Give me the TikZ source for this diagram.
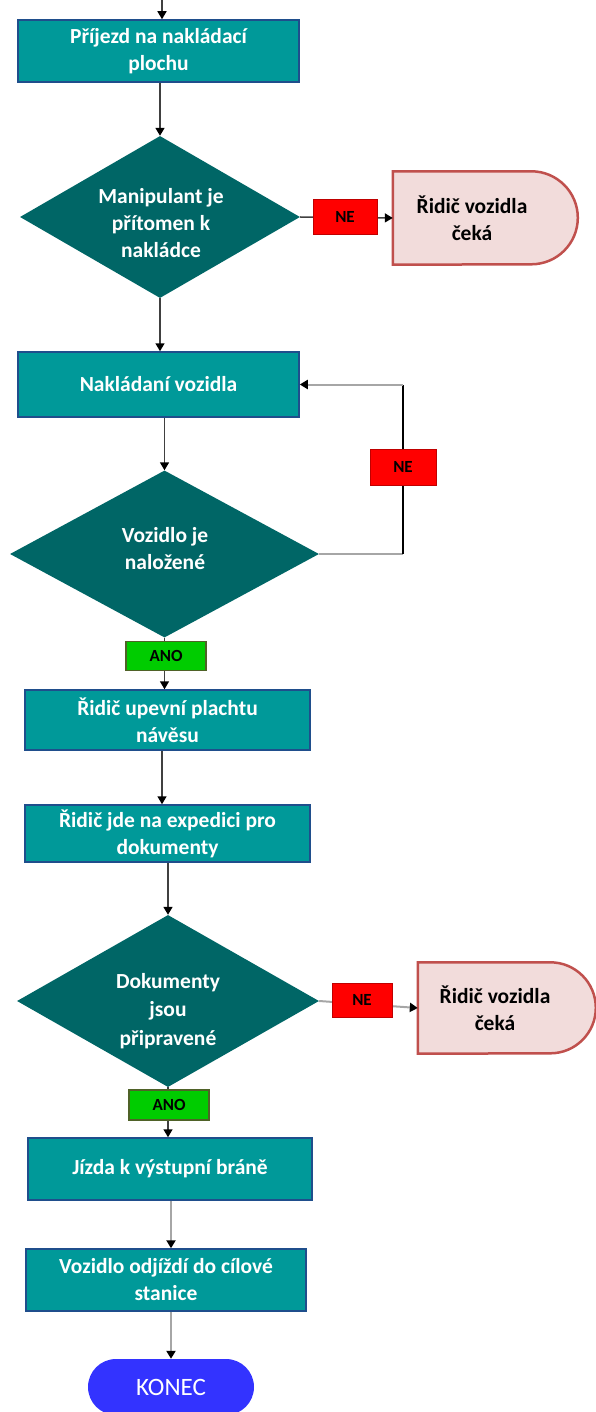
\documentclass[tikz,border=0pt]{standalone}
\usepackage{fontspec}
\setmainfont{Carlito}
\usetikzlibrary{shapes.geometric, arrows.meta}

\definecolor{procfill}{HTML}{009999}
\definecolor{procdraw}{HTML}{1F4E8C}
\definecolor{decfill}{HTML}{006666}
\definecolor{nofill}{HTML}{FF0000}
\definecolor{nodraw}{HTML}{C00000}
\definecolor{yesfill}{HTML}{00CC00}
\definecolor{yesdraw}{HTML}{4F6228}
\definecolor{waitfill}{HTML}{F2DCDB}
\definecolor{waitdraw}{HTML}{C0504D}
\definecolor{endfill}{HTML}{3333FF}
\definecolor{linegray}{HTML}{A6A6A6}
\definecolor{linedark}{HTML}{404040}

\tikzset{
  txt/.style={font=\bfseries\fontsize{21.5}{27}\selectfont, align=center},
  proc/.style={txt, draw=procdraw, line width=1.5pt, fill=procfill, text=white,
    inner sep=0pt},
  dec/.style={diamond, fill=decfill, shape aspect=1.7, inner sep=0pt},
  dectext/.style={txt, text=white, inner sep=0pt},
  waittext/.style={txt, text=black, inner sep=0pt},
  waitshape/.style={draw=waitdraw, line width=2.5pt, fill=waitfill},
  tagno/.style={fill=nofill, draw=nodraw, line width=1pt, text=black,
    font=\bfseries\fontsize{17}{18}\selectfont, minimum width=64pt,
    minimum height=35pt, inner sep=0pt},
  tagyes/.style={fill=yesfill, draw=yesdraw, line width=1.2pt, text=black,
    font=\bfseries\fontsize{17}{18}\selectfont, minimum width=80pt,
    minimum height=29pt, inner sep=0pt},
  endnode/.style={fill=endfill, text=white, rounded corners=28pt,
    font=\fontsize{25}{26}\selectfont, minimum width=166pt,
    minimum height=56pt, inner sep=0pt},
  conn/.style={draw=linedark, line width=1.5pt},
  conngray/.style={draw=linegray, line width=2pt},
  arr/.style={-{Triangle[length=8pt,width=9pt,color=black]}}
}

\begin{document}
\begin{tikzpicture}[x=1pt, y=-1pt]
\useasboundingbox (0,0) rectangle (596,1412);

% process boxes and decisions
\node[proc, minimum width=281pt, minimum height=62pt] (b1) at (158.5,51)
  {Příjezd na nakládací\\plochu};
\node[dec, minimum width=280pt, minimum height=162pt] (d1) at (160,217) {};
\node[dectext] (d1t) at (161,223.5) {Manipulant je\\přítomen k\\nakládce};
\node[proc, minimum width=281pt, minimum height=65pt] (b2) at (158.5,384.5)
  {Nakládaní vozidla};
\node[dec, minimum width=309pt, minimum height=167pt] (d2) at (164.5,554) {};
\node[dectext] (d2t) at (165,549) {Vozidlo je\\naložené};
\node[proc, minimum width=285pt, minimum height=60pt] (b3) at (167.5,720)
  {Řidič upevní plachtu\\návěsu};
\node[proc, minimum width=285pt, minimum height=57pt] (b4) at (167.5,833.5)
  {Řidič jde na expedici pro\\dokumenty};
\node[dec, minimum width=302pt, minimum height=172pt] (d3) at (168,1001) {};
\node[dectext, font=\bfseries\fontsize{21.5}{28.5}\selectfont] (d3t) at (168,1011)
  {Dokumenty\\jsou\\připravené};
\node[proc, minimum width=284pt, minimum height=62pt] (b5) at (170,1169)
  {Jízda k výstupní bráně};
\node[proc, minimum width=280pt, minimum height=62pt] (b6) at (166,1280)
  {Vozidlo odjíždí do cílové\\stanice};
\node[endnode] (end) at (171,1387) {KONEC};

% waiting (delay) shapes
\node[minimum width=185pt, minimum height=93pt, inner sep=0pt] (w1) at (485.5,218) {};
\draw[waitshape] (w1.north west) -- ++(138.5,0)
  arc[start angle=90, end angle=-90, radius=46.5pt] -- (w1.south west) -- cycle;
\node[waittext] (w1t) at (472,218) {Řidič vozidla\\čeká};

\node[minimum width=178pt, minimum height=91pt, inner sep=0pt] (w2) at (507,1008) {};
\draw[waitshape] (w2.north west) -- ++(132.5,0)
  arc[start angle=90, end angle=-90, radius=45.5pt] -- (w2.south west) -- cycle;
\node[waittext] (w2t) at (495,1008) {Řidič vozidla\\čeká};

% connectors
\coordinate (start) at (162,0);
\coordinate (mid) at (162,780);
\draw[conn, arr] (start) -- (start |- b1.north);
\draw[conn, arr] (b1.south -| d1.north) -- (d1.north);
\draw[conn, arr] (d1.east) -- (w1.west);
\draw[conn, arr] (d1.south) -- (d1.south |- b2.north);
\draw[conn, arr] (b2.south -| d2.north) -- (d2.north);
\coordinate (lp1) at (403,554);
\coordinate (lp2) at (403,383);
\draw[conngray] (d2.east) -- (d2.east -| lp1);
\draw[draw=black, line width=1.5pt] (d2.east -| lp1) -- (lp2 |- b2.east);
\draw[conngray, arr] (lp2 |- b2.east) -- (b2.east);
\draw[conn, arr] (d2.south) -- (d2.south |- b3.north);
\draw[conn, arr] (b3.south -| mid) -- (b4.north -| mid);
\draw[conn, arr] (b4.south -| d3.north) -- (d3.north);
\draw[conngray, arr] (d3.east) -- (w2.west);
\draw[conn, arr] (d3.south) -- (d3.south |- b5.north);
\draw[conngray, arr] (b5.south -| end.north) -- (end.north |- b6.north);
\draw[conngray, arr] (b6.south -| end.north) -- (end.north);

% branch labels
\node[tagno] (ne1) at (345,217) {NE};
\node[tagno, minimum width=66pt, minimum height=36pt] (ne2) at (403,467) {NE};
\node[tagno, minimum width=60pt, minimum height=34pt] (ne3) at (362,1000) {NE};
\node[tagyes] (ano1) at (166,656) {ANO};
\node[tagyes, minimum height=30pt] (ano2) at (169,1105) {ANO};
\end{tikzpicture}
\end{document}
